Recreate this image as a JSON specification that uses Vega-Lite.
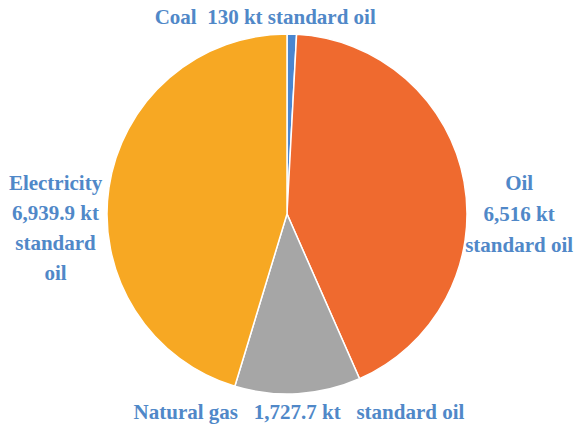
{
  "$schema": "https://vega.github.io/schema/vega-lite/v6.json",
  "width": 574,
  "height": 428,
  "padding": 0,
  "autosize": "none",
  "background": "white",
  "config": {"view": {"stroke": null}},
  "data": {
    "values": [
      {"k": 1, "cat": "Coal", "value": 130, "label": "Coal\u00a0 130 kt standard oil"},
      {"k": 2, "cat": "Oil", "value": 6516, "label": "Oil\n6,516 kt\nstandard oil"},
      {"k": 3, "cat": "Natural gas", "value": 1727.7, "label": "Natural gas\u00a0\u00a0 1,727.7 kt\u00a0\u00a0 standard oil"},
      {"k": 4, "cat": "Electricity", "value": 6939.9, "label": "Electricity\n6,939.9 kt\nstandard\noil"}
    ]
  },
  "encoding": {
    "theta": {"field": "value", "type": "quantitative", "stack": true},
    "order": {"field": "k", "type": "quantitative"}
  },
  "layer": [
    {
      "mark": {"type": "arc", "radius": 180, "stroke": "white", "strokeWidth": 1.5},
      "encoding": {
        "color": {
          "field": "cat",
          "type": "nominal",
          "scale": {
            "domain": ["Coal", "Oil", "Natural gas", "Electricity"],
            "range": ["#4a86d0", "#ef6a2f", "#a6a6a6", "#f7a823"]
          },
          "legend": null
        }
      }
    },
    {
      "mark": {"type": "text", "radius": 196, "dx": -27, "font": "Liberation Serif", "fontWeight": "bold", "fontSize": 21, "fill": "#5088c8", "align": "center", "baseline": "middle"},
      "encoding": {"text": {"condition": {"test": "datum.cat === 'Coal'", "field": "label"}, "value": ""}}
    },
    {
      "mark": {"type": "text", "radius": 236, "dy": 12, "lineBreak": "\n", "lineHeight": 31, "font": "Liberation Serif", "fontWeight": "bold", "fontSize": 21, "fill": "#5088c8", "align": "center", "baseline": "middle"},
      "encoding": {"text": {"condition": {"test": "datum.cat === 'Oil'", "field": "label"}, "value": ""}}
    },
    {
      "mark": {"type": "text", "radius": 199, "font": "Liberation Serif", "fontWeight": "bold", "fontSize": 21, "fill": "#5088c8", "align": "center", "baseline": "middle"},
      "encoding": {"text": {"condition": {"test": "datum.cat === 'Natural gas'", "field": "label"}, "value": ""}}
    },
    {
      "mark": {"type": "text", "radius": 234, "dy": 4, "lineBreak": "\n", "lineHeight": 30, "font": "Liberation Serif", "fontWeight": "bold", "fontSize": 21, "fill": "#5088c8", "align": "center", "baseline": "middle"},
      "encoding": {"text": {"condition": {"test": "datum.cat === 'Electricity'", "field": "label"}, "value": ""}}
    }
  ]
}
